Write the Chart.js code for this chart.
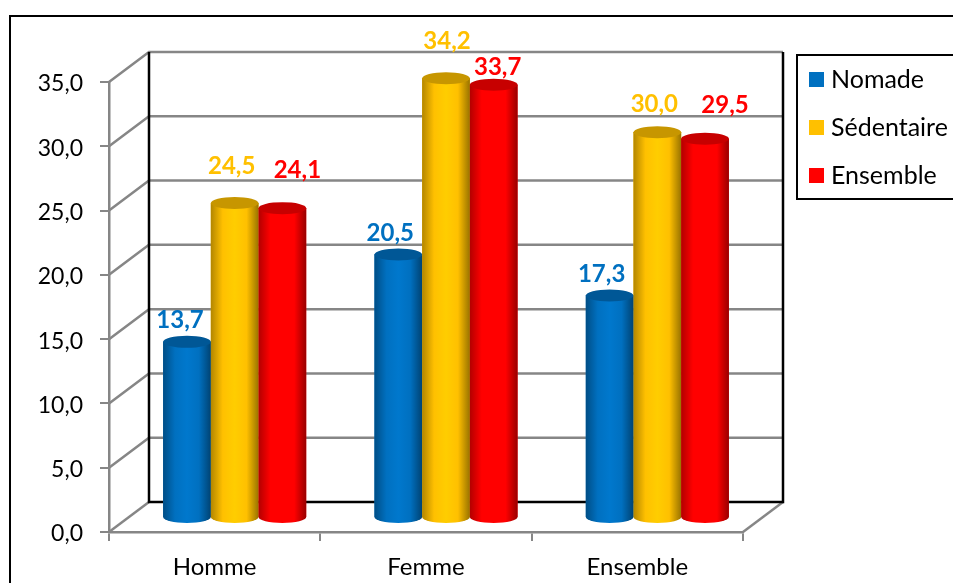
<!DOCTYPE html>
<html>
<head>
<meta charset="utf-8">
<style>
  html, body { margin: 0; padding: 0; background: #fff; overflow: hidden; }
  canvas { display: block; }
</style>
<script src="https://cdn.jsdelivr.net/npm/chart.js@4/dist/chart.umd.min.js"></script>
</head>
<body>
<canvas id="chart" width="953" height="583"></canvas>
<script>
const categories = ['Homme', 'Femme', 'Ensemble'];
const nomade = [13.7, 20.5, 17.3];
const sedentaire = [24.5, 34.2, 30.0];
const ensemble = [24.1, 33.7, 29.5];
const yTickLabels = ['0,0', '5,0', '10,0', '15,0', '20,0', '25,0', '30,0', '35,0'];

const colors = [[0, 112, 192], [255, 192, 0], [255, 0, 0]];
const FONT = 'Lato, Carlito, sans-serif';
const GREY = '#868686';
const DEPTH_X = 40, DEPTH_Y = -30;
const BAR_DX = 20, BAR_DY = -14;
const CAP_RY = 6;

// hand placed offsets of the value labels, one row per series
const labelNudge = [
    [[-7, -22], [-8, -21], [-8, -21]],
    [[-3, -37], [1, -37], [-3, -28]],
    [[15, -38], [4, -17], [20, -33]]
];

function rgb(c, f) {
    return 'rgb(' + c.map(v => Math.min(255, Math.round(v * f))).join(',') + ')';
}

function sideGradient(ctx, el, c) {
    const g = ctx.createLinearGradient(el.x - el.width / 2, 0, el.x + el.width / 2, 0);
    g.addColorStop(0, rgb(c, 0.7));
    g.addColorStop(0.25, rgb(c, 1));
    g.addColorStop(0.5, rgb(c, 1.07));
    g.addColorStop(0.75, rgb(c, 1));
    g.addColorStop(1, rgb(c, 0.6));
    return g;
}

function line(ctx, pts, color, width) {
    ctx.beginPath();
    pts.forEach((p, i) => i ? ctx.lineTo(p[0], p[1]) : ctx.moveTo(p[0], p[1]));
    ctx.strokeStyle = color;
    ctx.lineWidth = width;
    ctx.stroke();
}

// outer frame and legend frame, both run off the right edge of the picture
const frames = {
    id: 'frames',
    beforeDraw(chart) {
        const ctx = chart.ctx;
        ctx.save();
        line(ctx, [[10, 590], [10, 16], [960, 16]], '#000', 2);
        line(ctx, [[960, 55], [797, 55], [797, 199], [960, 199]], '#000', 2);
        ctx.restore();
    },
    afterLayout(chart) {
        const legend = chart.legend;
        legend.left = 791.5;
        legend.right = 953;
        legend.top = 44;
        legend.bottom = 300;
    }
};

// back wall, floor and the slanted grid lines
const walls = {
    id: 'walls',
    beforeDatasetsDraw(chart) {
        const ctx = chart.ctx, y = chart.scales.y, a = chart.chartArea;
        ctx.save();
        y.ticks.forEach(t => {
            const py = y.getPixelForValue(t.value);
            if (t.value > 0) {
                line(ctx, [[a.left, py], [a.left + DEPTH_X, py + DEPTH_Y], [a.right + DEPTH_X, py + DEPTH_Y]], GREY, 2.5);
            }
        });
        const top = a.top + DEPTH_Y, bottom = a.bottom + DEPTH_Y;
        line(ctx, [[a.left, a.bottom], [a.left + DEPTH_X, bottom]], GREY, 2.5);
        line(ctx, [[a.right, a.bottom], [a.right + DEPTH_X, bottom]], GREY, 2.5);
        line(ctx, [[a.left + DEPTH_X, top], [a.left + DEPTH_X, bottom], [a.right + DEPTH_X, bottom], [a.right + DEPTH_X, top]], '#000', 2.5);
        ctx.restore();

        ctx.save();
        ctx.translate(BAR_DX, BAR_DY);
    },
    afterDatasetsDraw(chart) {
        const ctx = chart.ctx;
        chart.data.datasets.forEach((ds, i) => {
            chart.getDatasetMeta(i).data.forEach(el => {
                const rx = el.width / 2, c = colors[i];
                ctx.beginPath();
                ctx.moveTo(el.x - rx, el.y);
                ctx.lineTo(el.x - rx, el.base);
                ctx.ellipse(el.x, el.base, rx, CAP_RY, 0, Math.PI, 0, true);
                ctx.lineTo(el.x + rx, el.y);
                ctx.closePath();
                ctx.fillStyle = sideGradient(ctx, el, c);
                ctx.fill();
                ctx.beginPath();
                ctx.ellipse(el.x, el.y, rx, CAP_RY, 0, 0, Math.PI * 2);
                ctx.fillStyle = rgb(c, 0.78);
                ctx.fill();
            });
        });
        ctx.restore();

        ctx.save();
        ctx.font = 'bold 24px ' + FONT;
        ctx.textAlign = 'center';
        ctx.textBaseline = 'middle';
        chart.data.datasets.forEach((ds, i) => {
            chart.getDatasetMeta(i).data.forEach((el, j) => {
                ctx.fillStyle = rgb(colors[i], 1);
                ctx.fillText(ds.data[j].toFixed(1).replace('.', ','),
                    el.x + BAR_DX + labelNudge[i][j][0], el.y + BAR_DY + labelNudge[i][j][1]);
            });
        });
        ctx.restore();
    }
};

new Chart(document.getElementById('chart').getContext('2d'), {
    type: 'bar',
    data: {
        labels: categories,
        datasets: [
            { label: 'Nomade', data: nomade, backgroundColor: rgb(colors[0], 1) },
            { label: 'Sédentaire', data: sedentaire, backgroundColor: rgb(colors[1], 1) },
            { label: 'Ensemble', data: ensemble, backgroundColor: rgb(colors[2], 1) }
        ]
    },
    options: {
        responsive: false,
        animation: false,
        categoryPercentage: 0.677,
        barPercentage: 1,
        layout: { padding: { top: 82, right: 210, left: 0, bottom: 0 } },
        scales: {
            x: {
                afterFit: s => { s.height = 51; },
                border: { color: GREY, width: 2.5 },
                grid: { color: GREY, lineWidth: 2, drawOnChartArea: false, tickLength: 9 },
                ticks: { color: '#000', font: { family: FONT, size: 24 }, padding: 12, maxRotation: 0 }
            },
            y: {
                min: 0,
                max: 35,
                afterFit: s => { s.width = 109; },
                border: { color: GREY, width: 2.5 },
                grid: { color: GREY, lineWidth: 2, drawOnChartArea: false, tickLength: 9 },
                ticks: {
                    stepSize: 5,
                    color: '#000',
                    font: { family: FONT, size: 23 },
                    padding: 17,
                    labelOffset: 2,
                    callback: (v, i) => yTickLabels[i]
                }
            }
        },
        plugins: {
            tooltip: { enabled: false },
            legend: {
                position: 'chartArea',
                align: 'start',
                labels: {
                    boxWidth: 4,
                    boxHeight: 4,
                    padding: 23,
                    color: '#000',
                    font: { family: FONT, size: 25 },
                    // thick border around a small box keeps the text as close as in the reference
                    generateLabels: chart => Chart.defaults.plugins.legend.labels.generateLabels(chart).map(item => {
                        item.strokeStyle = item.fillStyle;
                        item.lineWidth = 11;
                        item.lineJoin = 'miter';
                        item.borderRadius = 0;
                        return item;
                    })
                }
            }
        }
    },
    plugins: [frames, walls]
});
</script>
</body>
</html>
